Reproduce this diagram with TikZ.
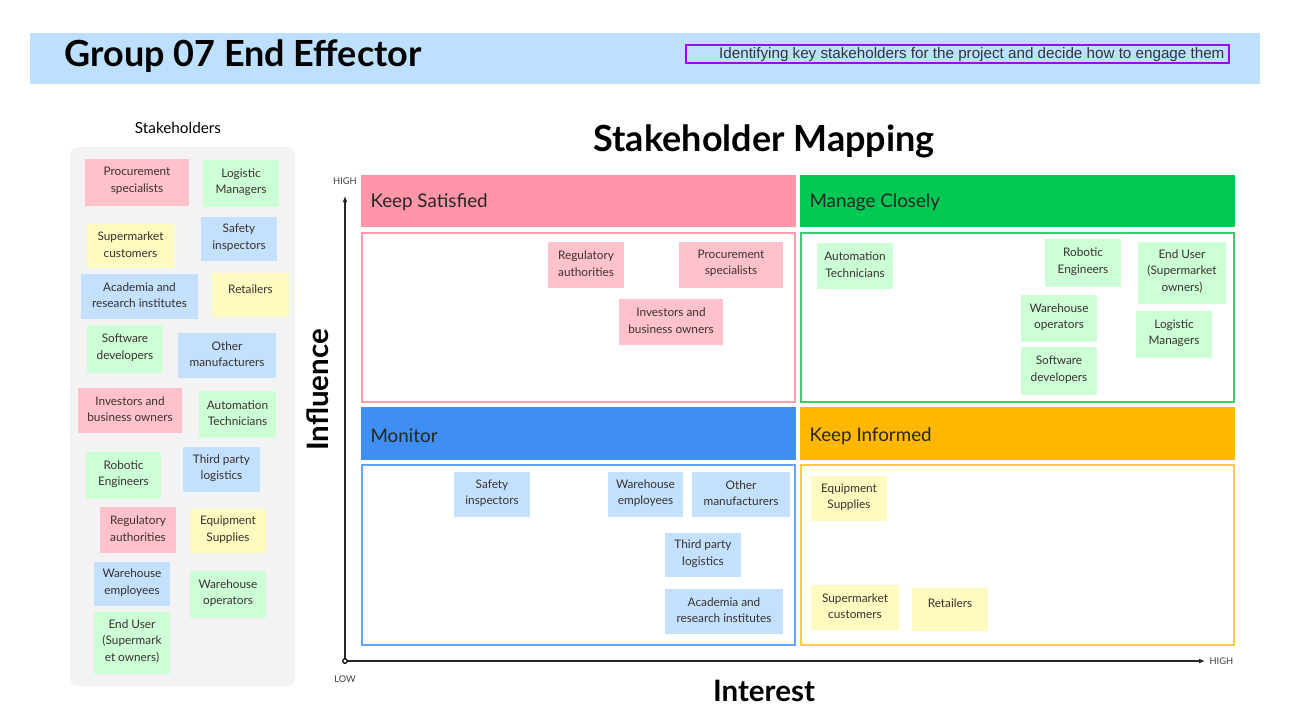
\documentclass[tikz,border=0pt]{standalone}
\usepackage{fontspec}
\setmainfont{Lato}
\newfontfamily\arialf{Liberation Sans}
\usetikzlibrary{fit,arrows.meta}
\definecolor{band}{HTML}{BDE0FE}
\definecolor{panel}{HTML}{F3F3F3}
\definecolor{pinkN}{HTML}{FFC2CD}
\definecolor{greenN}{HTML}{CCFFD6}
\definecolor{blueN}{HTML}{C3E1FD}
\definecolor{yellowN}{HTML}{FFFAC0}
\definecolor{pinkH}{HTML}{FF95A9}
\definecolor{greenH}{HTML}{00C853}
\definecolor{blueH}{HTML}{3F8FF3}
\definecolor{yellowH}{HTML}{FFB700}
\definecolor{pinkB}{HTML}{FF9DB0}
\definecolor{greenB}{HTML}{3DCB6D}
\definecolor{blueB}{HTML}{62A7F7}
\definecolor{yellowB}{HTML}{FFCB45}
\definecolor{purp}{HTML}{A000FF}
\definecolor{ntext}{HTML}{3A3030}
\tikzset{
  stkbox/.style={inner sep=0pt},
  stktext/.style={inner sep=0pt, align=center, text=ntext, font=\fontsize{11.8}{16.5}\selectfont},
  stklab/.style={stktext, yshift=1.5pt},
  hdr/.style={inner sep=0pt, draw=none},
  qbody/.style={inner sep=0pt, line width=1.6pt, fill=white},
  hlabel/.style={anchor=west, font=\fontsize{18.8}{21}\selectfont, text=black!85},
  axis/.style={line width=1.4pt, draw=black!85},
  tiny/.style={font=\fontsize{9.3}{10}\selectfont, text=black!75},
  axtitle/.style={font=\bfseries\fontsize{29.5}{32}\selectfont}
}
\newcommand\stknote[7]{\node[stkbox, fill=#2, fit={(#3,#4) (#5,#6)}, label={[stklab]center:{#7}}] (#1) {};}
\begin{document}
\begin{tikzpicture}[x=1pt,y=-1pt]
\useasboundingbox[fill=white] (0,0) rectangle (1312,721);
% header band
\node[fit={(30,33) (1260,84)}, inner sep=0pt, fill=band] (band) {};
\node[anchor=west, font=\bfseries\fontsize{36}{40}\selectfont] (title) at (61,56) {Group 07 End Effector};
\node[fit={(686,45) (1229,63)}, inner sep=0pt, draw=purp, line width=2.6pt] (sub) {};
\node[anchor=east, font=\arialf\fontsize{15.2}{17}\selectfont, text=black!80] (subt) at (1228,54.5) {Identifying key stakeholders for the project and decide how to engage them};
% left panel
\node[font=\fontsize{15.3}{17}\selectfont] (stkt) at (178,128) {Stakeholders};
\node[fit={(70,147) (295,686)}, inner sep=0pt, fill=panel, rounded corners=8pt] (panel) {};
\stknote{l1}{pinkN}{85}{159}{189}{206}{Procurement\\specialists}
\stknote{l2}{greenN}{203}{160}{279}{207}{Logistic\\Managers}
\stknote{l3}{yellowN}{87}{224}{174}{268}{Supermarket\\customers}
\stknote{l4}{blueN}{201}{217}{277}{261}{Safety\\inspectors}
\stknote{l5}{blueN}{81}{274}{198}{319}{Academia and\\research institutes}
\node[stkbox, fill=yellowN, fit={(212,273) (289,317)}] (l6) {};
\node[stktext] (l6t) at (250.5,289.5) {Retailers};
\stknote{l7}{greenN}{87}{325}{163}{373}{Software\\developers}
\stknote{l8}{blueN}{178}{333}{276}{378}{Other\\manufacturers}
\stknote{l9}{pinkN}{78}{388}{182}{433}{Investors and\\business owners}
\stknote{l10}{greenN}{199}{391}{276}{438}{Automation\\Technicians}
\stknote{l11}{greenN}{86}{452}{161}{499}{Robotic\\Engineers}
\stknote{l12}{blueN}{183}{447}{260}{492}{Third party\\logistics}
\stknote{l13}{pinkN}{100}{507}{176}{553}{Regulatory\\authorities}
\stknote{l14}{yellowN}{190}{509}{266}{553}{Equipment\\Supplies}
\stknote{l15}{blueN}{94}{562}{170}{606}{Warehouse\\employees}
\stknote{l16}{greenN}{190}{571}{266}{618}{Warehouse\\operators}
\stknote{l17}{greenN}{94}{612}{170}{674}{End User\\(Supermark\\et owners)}
% main title
\node[font=\bfseries\fontsize{36}{40}\selectfont] (mt) at (764,141.5) {Stakeholder Mapping};
% quadrant headers
\node[hdr, fill=pinkH, fit={(361,175) (796,227)}] (hKS) {};
\node[hdr, fill=greenH, fit={(800,175) (1235,227)}] (hMC) {};
\node[hdr, fill=blueH, fit={(361,407) (796,460)}] (hMo) {};
\node[hdr, fill=yellowH, fit={(800,407) (1235,460)}] (hKI) {};
\node[hlabel] (tKS) at (367,202) {Keep Satisfied};
\node[hlabel] (tMC) at (806,202) {Manage Closely};
\node[hlabel] (tMo) at (367,436) {Monitor};
\node[hlabel] (tKI) at (806,436) {Keep Informed};
% quadrant bodies
\node[qbody, draw=pinkB, fit={(362,233) (795,402)}] (bKS) {};
\node[qbody, draw=greenB, fit={(801,233) (1234,402)}] (bMC) {};
\node[qbody, draw=blueB, fit={(362,465) (795,645)}] (bMo) {};
\node[qbody, draw=yellowB, fit={(801,465) (1234,645)}] (bKI) {};
% Keep Satisfied notes
\stknote{q1}{pinkN}{548}{242}{624}{288}{Regulatory\\authorities}
\stknote{q2}{pinkN}{679}{242}{783}{288}{Procurement\\specialists}
\stknote{q3}{pinkN}{619}{299}{723}{345}{Investors and\\business owners}
% Manage Closely notes
\stknote{q4}{greenN}{817}{243}{893}{289}{Automation\\Technicians}
\stknote{q5}{greenN}{1045}{239}{1121}{287}{Robotic\\Engineers}
\stknote{q6}{greenN}{1138}{242}{1226}{304}{End User\\(Supermarket\\owners)}
\stknote{q7}{greenN}{1021}{295}{1097}{342}{Warehouse\\operators}
\stknote{q8}{greenN}{1136}{311}{1212}{358}{Logistic\\Managers}
\stknote{q9}{greenN}{1021}{347}{1097}{395}{Software\\developers}
% Monitor notes
\stknote{q10}{blueN}{454}{472}{530}{517}{Safety\\inspectors}
\stknote{q11}{blueN}{608}{472}{683}{517}{Warehouse\\employees}
\stknote{q12}{blueN}{692}{472}{790}{517}{Other\\manufacturers}
\stknote{q13}{blueN}{665}{533}{741}{577}{Third party\\logistics}
\stknote{q14}{blueN}{665}{589}{783}{634}{Academia and\\research institutes}
% Keep Informed notes
\stknote{q15}{yellowN}{811}{476}{887}{521}{Equipment\\Supplies}
\stknote{q16}{yellowN}{811}{585}{899}{630}{Supermarket\\customers}
\node[stkbox, fill=yellowN, fit={(912,588) (988,631)}] (q17) {};
\node[stktext] (q17t) at (950,603.5) {Retailers};
% axes
\coordinate (o) at (345,661);
\coordinate (ytop) at (345,196);
\coordinate (xend) at (1205,661);
\draw[axis, -{Latex[length=6pt,width=5pt]}] (o) -- (ytop);
\draw[axis, -{Latex[length=6pt,width=5pt]}] (o) -- (xend);
\draw[line width=1.2pt, fill=white] (o) circle (2.3);
\node[tiny] (yhigh) at (345,181) {HIGH};
\node[tiny] (ylow) at (345,679) {LOW};
\node[tiny, anchor=west] (xhigh) at (1206,661) {HIGH};
\node[axtitle, rotate=90] (infl) at (318,390) {Influence};
\node[axtitle] (intr) at (764,691) {Interest};
\end{tikzpicture}
\end{document}
